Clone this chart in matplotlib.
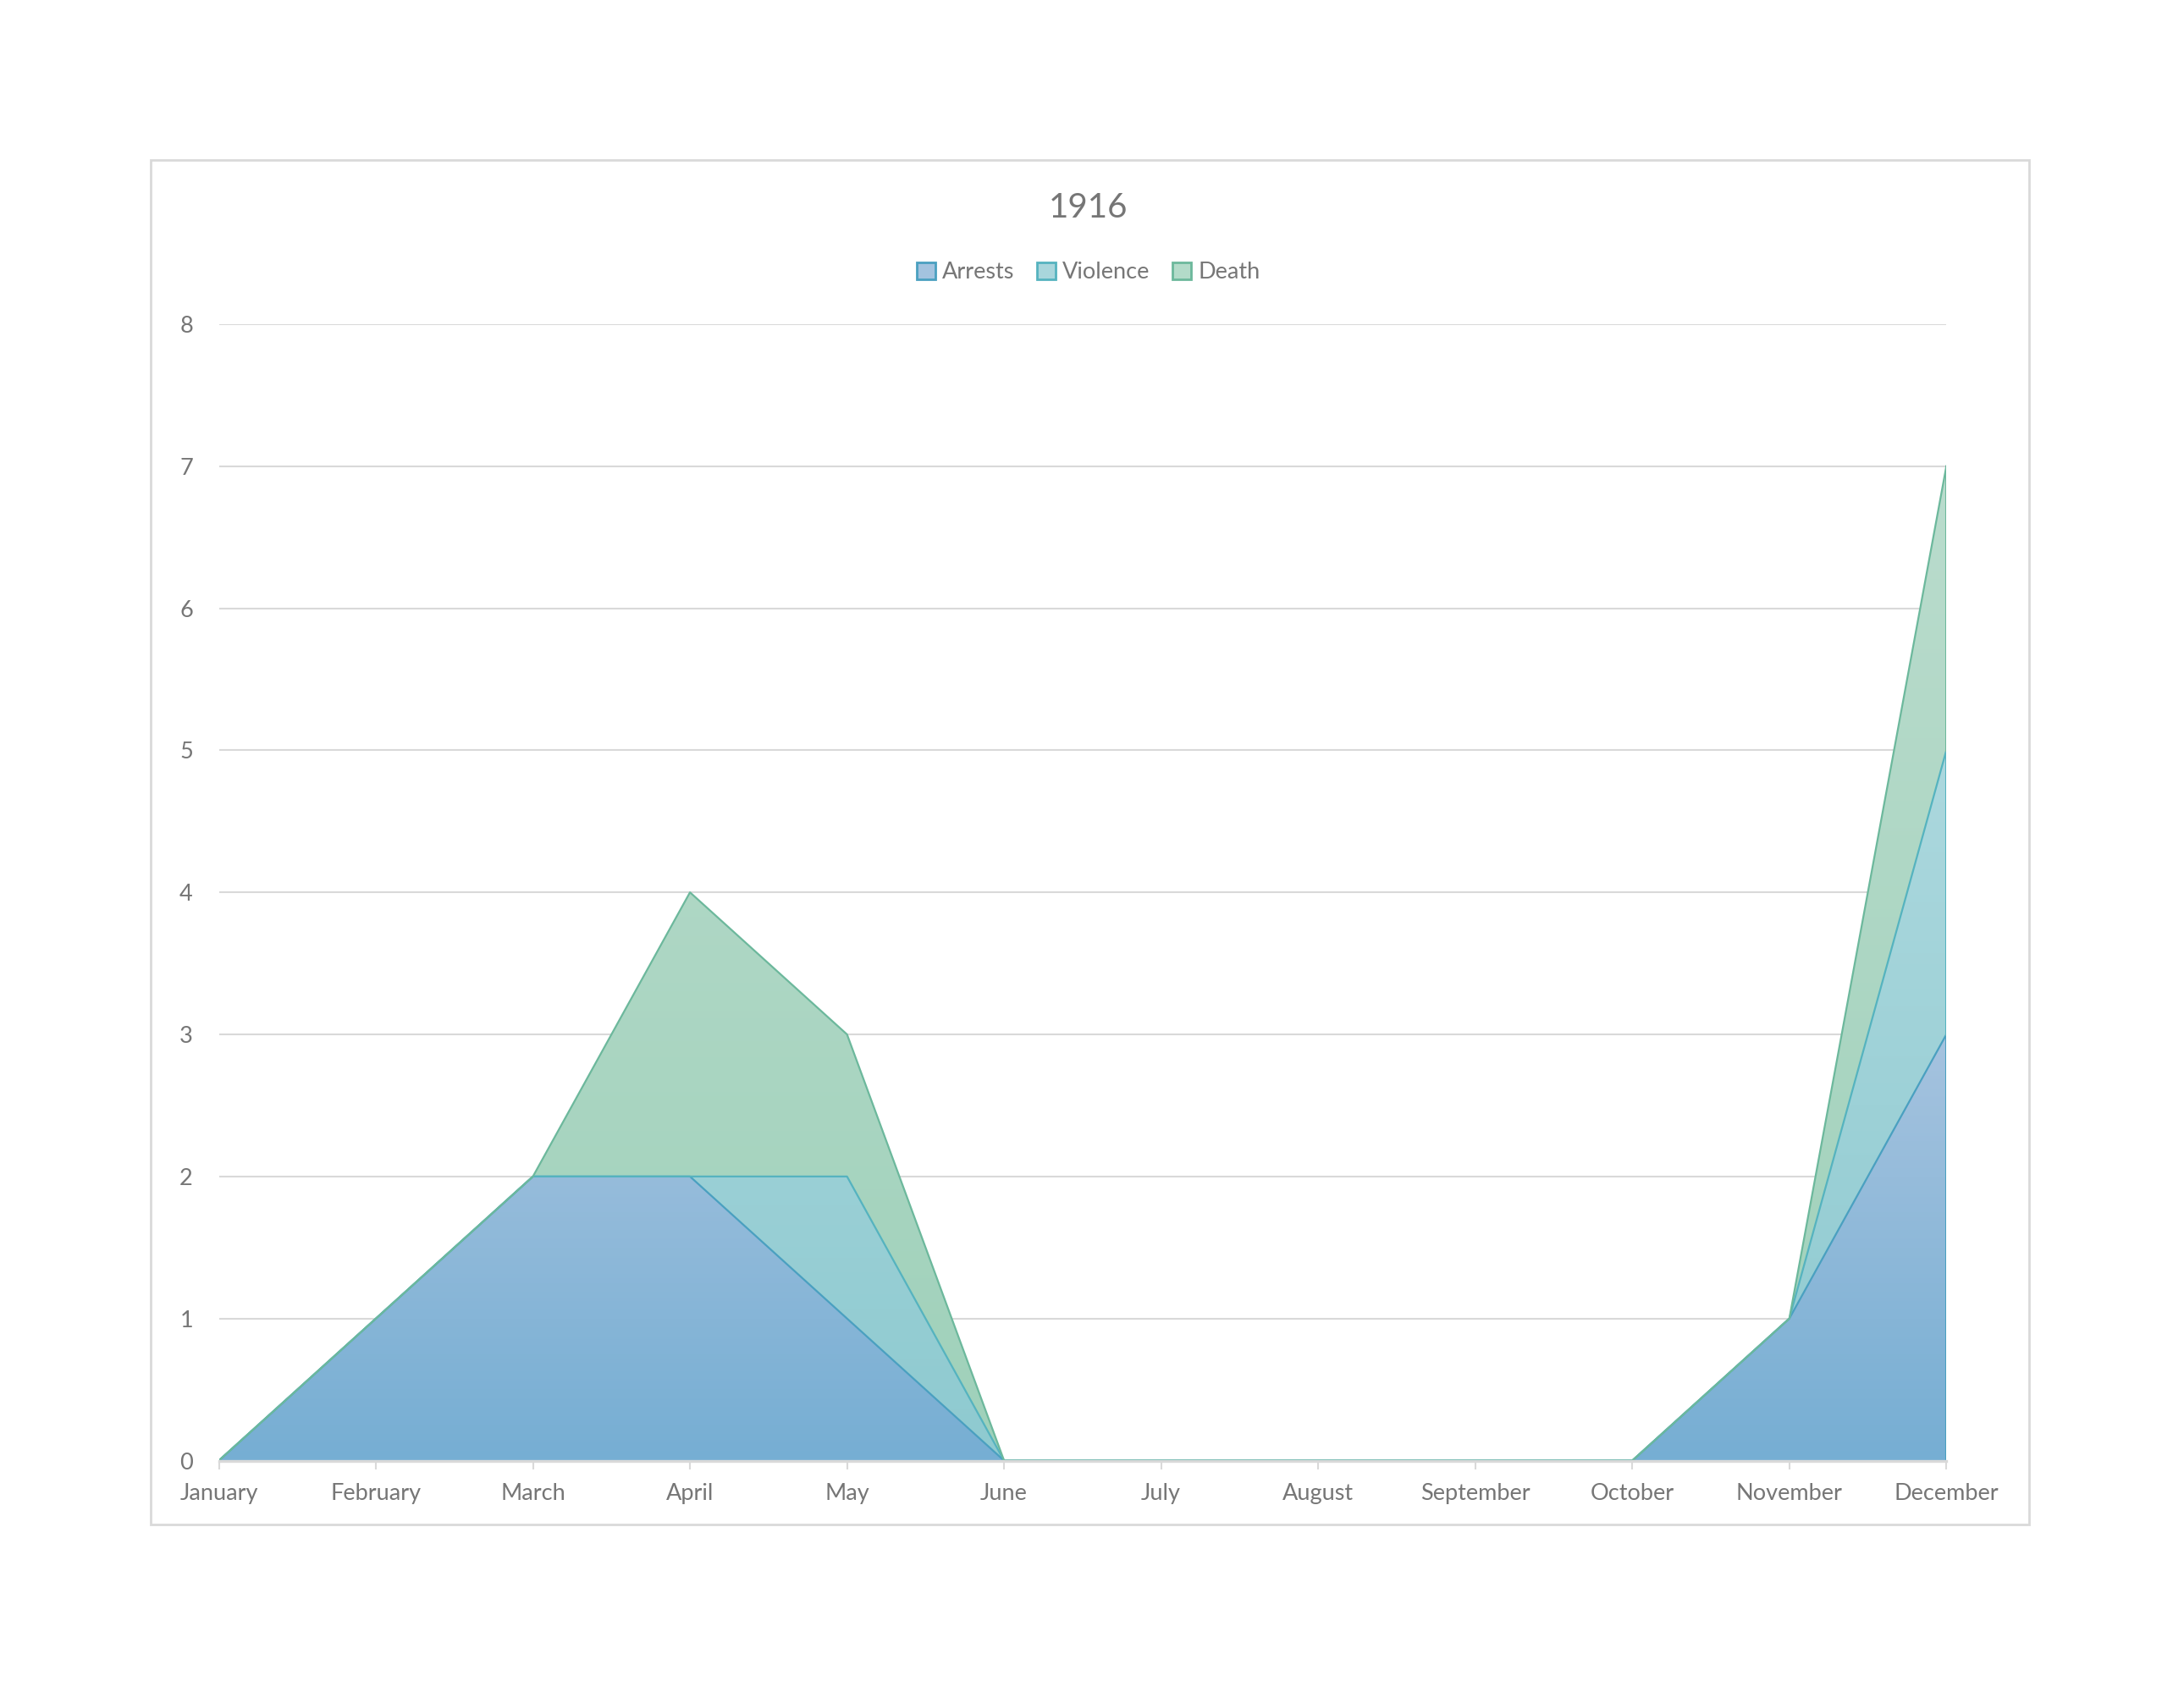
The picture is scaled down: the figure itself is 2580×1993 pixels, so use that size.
import numpy as np
import matplotlib.pyplot as plt
from matplotlib.colors import LinearSegmentedColormap
from matplotlib.patches import Rectangle

plt.rcParams['font.family'] = ['Lato', 'DejaVu Sans']

months = ["January", "February", "March", "April", "May", "June", "July",
          "August", "September", "October", "November", "December"]
arrests = [0, 1, 2, 2, 1, 0, 0, 0, 0, 0, 1, 3]
violence = [0, 0, 0, 0, 1, 0, 0, 0, 0, 0, 0, 2]
death = [0, 0, 0, 2, 1, 0, 0, 0, 0, 0, 0, 2]
series_names = ["Arrests", "Violence", "Death"]

# gradient (top, bottom), edge colour, legend face
styles = [
    (("#a6c3df", "#76aed3"), "#4aa0c0", "#a3c3df"),
    (("#acd8de", "#8ecad0"), "#55b3bf", "#a9d6dc"),
    (("#badccd", "#9fd1ba"), "#6cb89c", "#b3dbc9"),
]
text_col = "#767676"

fig = plt.figure(figsize=(25.8, 19.93), dpi=100)
fig.patches.append(Rectangle((0.0690, 0.0963), 0.8600, 0.8089, transform=fig.transFigure,
                             fill=False, edgecolor="#d9d9d9", linewidth=2.0, zorder=0))

ax = fig.add_axes([0.1002, 0.1342, 0.7910, 0.6737])
x = np.arange(len(months))
data = [np.array(arrests), np.array(violence), np.array(death)]

base = np.zeros(len(months))
handles = []
for i, (name, vals, (grad, edge, legface)) in enumerate(zip(series_names, data, styles)):
    top = base + vals
    ymax = top.max()
    poly = ax.fill_between(x, base, top, facecolor="none", edgecolor="none")
    cmap = LinearSegmentedColormap.from_list(name, [grad[1], grad[0]])
    g = np.linspace(0, 1, 256).reshape(-1, 1)
    img = ax.imshow(g, cmap=cmap, aspect="auto", origin="lower",
                    extent=[0, 11, 0, ymax], zorder=2 + i)
    img.set_clip_path(poly.get_paths()[0], transform=ax.transData)
    ax.plot(x, top, color=edge, linewidth=1.6, zorder=5 + i)
    ax.plot([11, 11], [base[-1], top[-1]], color=edge, linewidth=2.2, zorder=5 + i)
    handles.append(Rectangle((0, 0), 1, 1, facecolor=legface, edgecolor=edge, linewidth=2.0))
    base = top

ax.set_xlim(0, 11)
ax.set_ylim(0, 8)
ax.set_yticks(range(0, 9))
ax.set_xticks(x)
ax.set_xticklabels(months)
ax.grid(axis="y", color="#d9d9d9", linewidth=1.5)
ax.set_axisbelow(True)
for side in ["top", "right", "left"]:
    ax.spines[side].set_visible(False)
ax.spines["bottom"].set_color("#d9d9d9")
ax.spines["bottom"].set_linewidth(2.4)
ax.spines["bottom"].set_zorder(10)
ax.tick_params(axis="x", colors="#d9d9d9", length=7, width=1.5, pad=12,
               labelsize=19.5, labelcolor=text_col)
ax.tick_params(axis="y", length=0, pad=22, labelsize=19.5, labelcolor=text_col)

fig.text(0.4983, 0.8770, "1916", ha="center", va="center", fontsize=29, color=text_col)
fig.legend(handles, series_names, loc="center", bbox_to_anchor=(0.4983, 0.8385),
           ncol=3, frameon=False, fontsize=19.5, labelcolor=text_col,
           handlelength=0.8, handleheight=0.8, handletextpad=0.3, columnspacing=1.0)

fig.savefig("out.png", dpi=100, facecolor="white")
